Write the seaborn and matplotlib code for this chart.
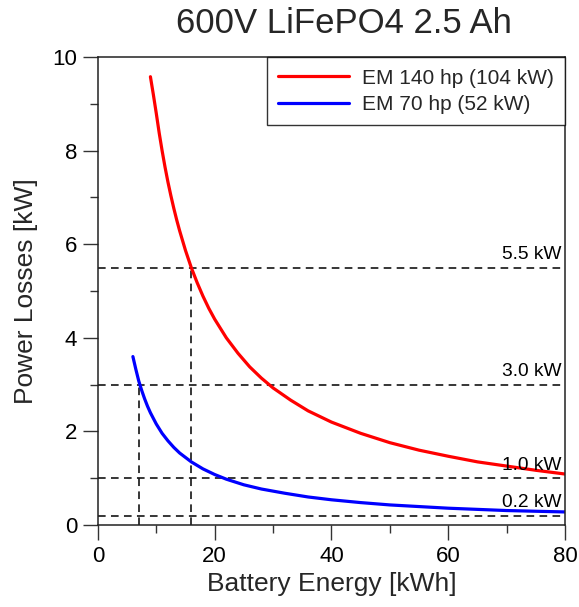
import matplotlib
matplotlib.use("Agg")
import matplotlib.pyplot as plt
import seaborn as sns
import pandas as pd
from matplotlib.ticker import MultipleLocator

# Data
energy_140 = [9, 9.5, 10, 10.5, 11, 11.5, 12, 12.5, 13, 13.5, 14, 15, 16, 17, 18, 19, 20, 22, 24, 26, 28, 30, 33, 36, 40, 45, 50, 55, 60, 65, 70, 75, 80]
loss_140 = [9.58, 9.2, 8.8, 8.38, 8.0, 7.65, 7.33, 7.04, 6.77, 6.52, 6.29, 5.87, 5.5, 5.18, 4.89, 4.63, 4.4, 4.0, 3.67, 3.38, 3.14, 2.93, 2.67, 2.44, 2.2, 1.96, 1.76, 1.6, 1.47, 1.35, 1.26, 1.17, 1.09]
energy_70 = [6, 6.5, 7, 7.5, 8, 8.5, 9, 10, 11, 12, 13, 14, 16, 18, 20, 22, 25, 28, 32, 36, 40, 45, 50, 60, 70, 80]
loss_70 = [3.6, 3.33, 3.08, 2.88, 2.7, 2.54, 2.4, 2.16, 1.96, 1.8, 1.66, 1.54, 1.35, 1.2, 1.08, 0.98, 0.86, 0.77, 0.68, 0.6, 0.54, 0.48, 0.43, 0.36, 0.31, 0.28]
series_names = ["EM 140 hp (104 kW)", "EM 70 hp (52 kW)"]
series_colors = ["#ff0000", "#0000ff"]
ref_levels = [5.5, 3.0, 1.0, 0.2]
ref_labels = ["5.5 kW", "3.0 kW", "1.0 kW", "0.2 kW"]
drop_x = [7, 16]
drop_y = [3.0, 5.5]

df = pd.concat([
    pd.DataFrame({"E": energy_140, "P": loss_140, "series": series_names[0]}),
    pd.DataFrame({"E": energy_70, "P": loss_70, "series": series_names[1]}),
])

sns.set_style("ticks")
plt.rcParams["font.family"] = ["Liberation Sans", "DejaVu Sans"]

fig = plt.figure(figsize=(5.79, 6.07), dpi=100)
ax = fig.add_axes([0.169, 0.135, 0.807, 0.771])

sns.lineplot(data=df, x="E", y="P", hue="series", palette=series_colors,
             linewidth=2.3, ax=ax, sort=True, estimator=None)

dash = (0, (5, 3.5))
for lvl, lab in zip(ref_levels, ref_labels):
    ax.axhline(lvl, color="black", linewidth=1.1, linestyle=dash, zorder=1)
    ax.text(79.3, lvl + 0.1, lab, ha="right", va="bottom", fontsize=13.8, color="black")
for xv, yv in zip(drop_x, drop_y):
    ax.plot([xv, xv], [0, yv], color="black", linewidth=1.1, linestyle=dash, zorder=1)

ax.set_xlim(0, 80)
ax.set_ylim(0, 10)
ax.xaxis.set_major_locator(MultipleLocator(20))
ax.xaxis.set_minor_locator(MultipleLocator(10))
ax.yaxis.set_major_locator(MultipleLocator(2))
ax.yaxis.set_minor_locator(MultipleLocator(1))
ax.tick_params(which="major", length=11, width=1, labelsize=16, direction="out", colors="#333333", labelcolor="black", pad=4)
ax.tick_params(which="minor", length=5.5, width=1, direction="out", colors="#333333")
for s in ax.spines.values():
    s.set_visible(True)
    s.set_color("#222222")
    s.set_linewidth(1.1)

ax.set_xlabel("Battery Energy [kWh]", fontsize=19, labelpad=4)
ax.set_ylabel("Power Losses [kW]", fontsize=19, labelpad=10)
ax.set_title("600V LiFePO4 2.5 Ah", fontsize=25, pad=17, x=0.527)

leg = ax.legend(loc="upper right", borderaxespad=0, fontsize=15, frameon=True,
                fancybox=False, handlelength=3.4, borderpad=0.55, labelspacing=0.35,
                handletextpad=0.6)
leg.get_frame().set_edgecolor("black")
leg.get_frame().set_linewidth(1.0)
for h in leg.get_lines():
    h.set_linewidth(2.3)

fig.savefig("out.png", dpi=100)
